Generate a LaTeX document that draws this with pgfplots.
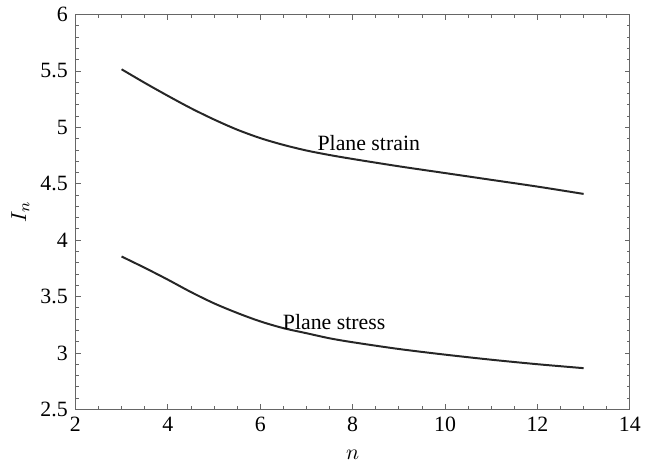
\documentclass[border=0pt]{standalone}
\usepackage{fontspec}
\setmainfont{Liberation Serif}
\usepackage{pgfplots}
\pgfplotsset{compat=1.18}

% curves
\pgfplotstableread{
n    I
3    5.515
3.5  5.395
4    5.28
4.5  5.17
5    5.07
5.5  4.98
6    4.905
6.5  4.845
7    4.795
7.5  4.755
8    4.72
9    4.655
10   4.595
11   4.535
12   4.475
13   4.41
}\strain

\pgfplotstableread{
n    I
3    3.855
3.5  3.755
4    3.65
4.5  3.54
5    3.44
5.5  3.355
6    3.28
6.5  3.22
7    3.175
7.5  3.13
8    3.095
9    3.035
10   2.985
11   2.94
12   2.90
13   2.865
}\stress

\begin{document}
\fontsize{11}{13}\selectfont
\begin{tikzpicture}
\begin{axis}[
  scale only axis,
  width=279.5pt, height=199pt,
  xmin=2, xmax=14, ymin=2.5, ymax=6,
  xtick={2,4,...,14},
  ytick={2.5,3,...,6},
  minor x tick num=3,
  minor y tick num=4,
  tick align=inside,
  major tick length=2.6pt,
  minor tick length=1.6pt,
  axis line style={gray!80!black, line width=0.5pt},
  every tick/.style={gray!80!black, line width=0.4pt},
  tick label style={font=\fontsize{11}{13}\selectfont},
  /pgf/number format/assume math mode=true,
  yticklabel style={/pgf/number format/fixed},
  xlabel={$n$},
  ylabel={$I_n$},
  label style={font=\fontsize{11}{13}\selectfont},
  xlabel style={yshift=-2pt},
  ylabel style={yshift=-2pt},
  clip=false,
]
\addplot[black!85, line width=1pt, smooth] table[x=n, y=I] {\strain};
\addplot[black!85, line width=1pt, smooth] table[x=n, y=I] {\stress};
\node at (axis cs:8.35,4.865) {Plane strain};
\node at (axis cs:7.6,3.27) {Plane stress};
\path (rel axis cs:-0.136,-0.128) rectangle (rel axis cs:1.023,1.028);
\end{axis}
\end{tikzpicture}
\end{document}
